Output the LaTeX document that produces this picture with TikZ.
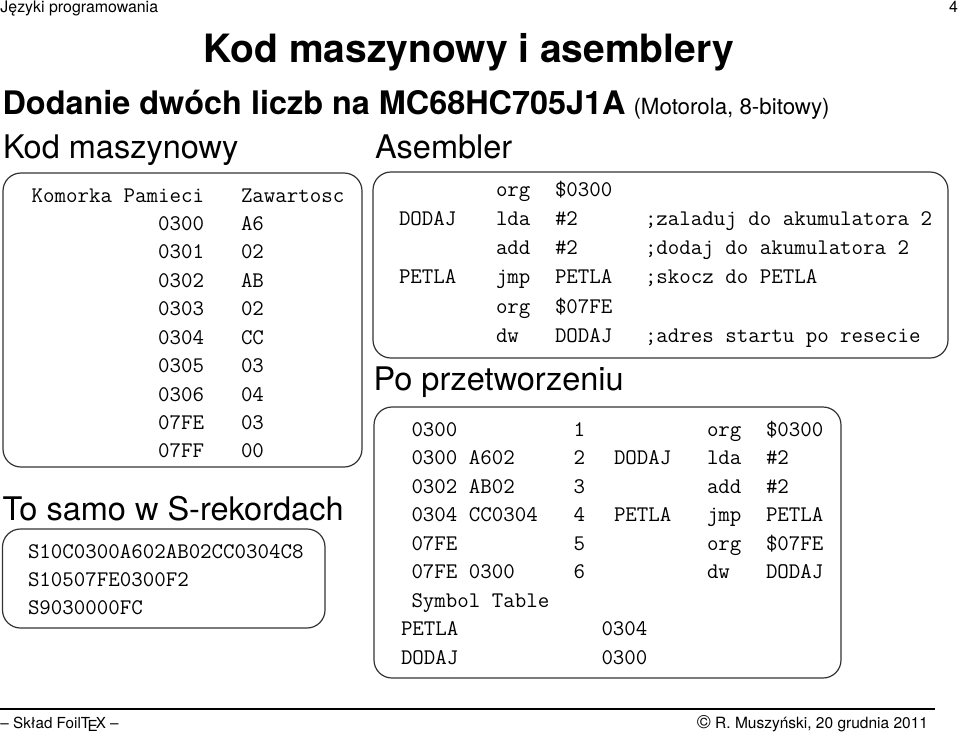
\documentclass[tikz,border=0pt]{standalone}
\usepackage{fontspec}
\setmainfont{TeX Gyre Heros}
\tikzset{
  txt/.style={inner sep=0pt, outer sep=0pt, anchor=base west, font=\ttfamily\fontsize{22.3}{26}\selectfont},
  txtr/.style={txt, anchor=base east},
  sf/.style={inner sep=0pt, outer sep=0pt, anchor=base west},
  heading/.style={sf, font=\fontsize{32.5}{36}\selectfont},
  small/.style={sf, font=\fontsize{15.5}{18}\selectfont},
  box/.style={draw=black!80, line width=1.2pt, rounded corners=18pt},
}
\begin{document}
\begin{tikzpicture}[x=1pt,y=-1pt]
\useasboundingbox (0,0) rectangle (960,734);
% header
\node[small, font=\fontsize{15.9}{18}\selectfont] (hdrl) at (0.5,12) {Języki programowania};
\node[small, font=\fontsize{15.9}{18}\selectfont, anchor=base east] (hdrr) at (958,12) {4};
% title
\node[sf, anchor=base, font=\bfseries\fontsize{39}{44}\selectfont] (title) at (469,62) {Kod maszynowy i asemblery};
\node[sf, font=\bfseries\fontsize{32.4}{36}\selectfont] (sub) at (2.6,114) {Dodanie dwóch liczb na MC68HC705J1A};
\node[sf, font=\fontsize{22.3}{26}\selectfont] (subp) at ([xshift=8pt]sub.base east) {(Motorola, 8-bitowy)};
% headings
\node[heading] (hkm) at (3,158) {Kod maszynowy};
\node[heading] (has) at (375,158) {Asembler};
\node[heading] (hsr) at (2.5,520) {To samo w S-rekordach};
\node[heading] (hpp) at (373.5,390) {Po przetworzeniu};
% left box
\draw[box] (3,173) rectangle (362,467);
\node[txtr] (kp) at (204,202) {Komorka Pamieci};
\node[txt] (zw) at (241,202) {Zawartosc};
\foreach \a/\v [count=\k] in {0300/A6,0301/02,0302/AB,0303/02,0304/CC,0305/03,0306/04,07FE/03,07FF/00}{
  \node[txtr] (ad\k) at (204,{202+28.44*\k}) {\a};
  \node[txt] (va\k) at (241,{202+28.44*\k}) {\v};
}
% S-records
\draw[box] (2.5,529) rectangle (325,628);
\node[txt] (s1) at (28,558) {S10C0300A602AB02CC0304C8};
\node[txt] (s2) at (28,586.4) {S10507FE0300F2};
\node[txt] (s3) at (28,614.8) {S9030000FC};
% assembler box
\draw[box] (373,172) rectangle (948,358);
\foreach \l/\m/\o/\c [count=\k] in {{}/org/\$0300/{},DODAJ/lda/\#2/{;zaladuj do akumulatora 2},{}/add/\#2/{;dodaj do akumulatora 2},PETLA/jmp/PETLA/{;skocz do PETLA},{}/org/\$07FE/{},{}/dw/DODAJ/{;adres startu po resecie}}{
  \node[txt] (al\k) at (399,{196+29.25*(\k-1)}) {\l};
  \node[txt] (am\k) at (496,{196+29.25*(\k-1)}) {\m};
  \node[txt] (ao\k) at (555,{196+29.25*(\k-1)}) {\o};
  \node[txt] (ac\k) at (645,{196+29.25*(\k-1)}) {\c};
}
% listing box
\draw[box] (374,407) rectangle (841,678);
\foreach \a/\n/\l/\m/\o [count=\k] in {0300/1/{}/org/\$0300,0300 A602/2/DODAJ/lda/\#2,0302 AB02/3/{}/add/\#2,0304 CC0304/4/PETLA/jmp/PETLA,07FE/5/{}/org/\$07FE,07FE 0300/6/{}/dw/DODAJ}{
  \node[txt] (la\k) at (411.5,{436+28.5*(\k-1)}) {\a};
  \node[txt] (ln\k) at (573.5,{436+28.5*(\k-1)}) {\n};
  \node[txt] (ll\k) at (614,{436+28.5*(\k-1)}) {\l};
  \node[txt] (lm\k) at (707,{436+28.5*(\k-1)}) {\m};
  \node[txt] (lo\k) at (766,{436+28.5*(\k-1)}) {\o};
}
\node[txt] (st) at (411.5,607) {Symbol Table};
\node[txt] (sp) at (401,635.5) {PETLA};
\node[txt] (spv) at (601.5,635.5) {0304};
\node[txt] (sd) at (401,664) {DODAJ};
\node[txt] (sdv) at (601.5,664) {0300};
% footer
\coordinate (fl) at (0,709);
\coordinate (fr) at (935,709);
\draw[line width=1.3pt] (fl) -- (fr);
\node[small, font=\fontsize{15.2}{18}\selectfont] (ftl) at (0.5,728) {– Skład Foil\TeX{} –};
\node[small, anchor=base east] (ftr) at (928,728) {\raisebox{-0.5pt}{\fontsize{19}{20}\selectfont\textcopyright}\ R. Muszyński, 20 grudnia 2011};
\end{tikzpicture}
\end{document}
